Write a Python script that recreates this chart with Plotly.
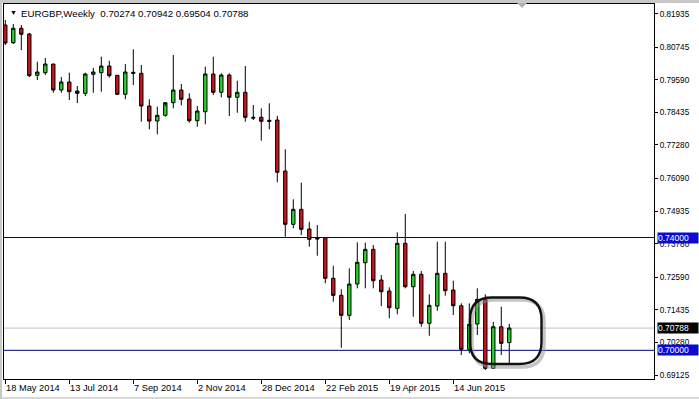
import pandas as pd
import plotly.graph_objects as go

# ---- data (weekly EURGBP) ----
start_date = "2014-05-18"
n_weeks = 64
dates = pd.date_range(start_date, periods=n_weeks, freq="7D")

opens = [0.81534, 0.80907, 0.81417, 0.81215, 0.79751, 0.79843, 0.80151, 0.79229,
         0.79513, 0.79194, 0.79112, 0.79786, 0.79843, 0.80080, 0.79751, 0.79077,
         0.79857, 0.79822, 0.78662, 0.78130, 0.78332, 0.78779, 0.79229, 0.78910,
         0.78141, 0.78460, 0.79797, 0.79148, 0.79761, 0.78971, 0.79148, 0.78261,
         0.78261, 0.78155, 0.78166, 0.76357, 0.74467, 0.74999, 0.74300, 0.73992,
         0.73992, 0.72552, 0.71949, 0.71240, 0.72350, 0.73105, 0.73581, 0.72492,
         0.72102, 0.71488, 0.73793, 0.72254, 0.72694, 0.70957, 0.71570, 0.72730,
         0.72137, 0.71581, 0.70035, 0.70932, 0.71808, 0.69361, 0.70836, 0.70274]
highs = [0.81712, 0.81570, 0.81534, 0.81251, 0.80233, 0.80364, 0.80151, 0.79690,
         0.79843, 0.79371, 0.79843, 0.80010, 0.80410, 0.80268, 0.79761, 0.80151,
         0.80673, 0.80116, 0.78900, 0.78637, 0.78662, 0.80471, 0.79442, 0.79112,
         0.78662, 0.80056, 0.80410, 0.79822, 0.79822, 0.79559, 0.80080, 0.78698,
         0.78580, 0.78758, 0.78307, 0.77127, 0.75354, 0.75942, 0.74559, 0.74442,
         0.73992, 0.72999, 0.72162, 0.72907, 0.73829, 0.73815, 0.73733, 0.72669,
         0.72233, 0.74183, 0.74832, 0.72811, 0.72811, 0.71985, 0.73850, 0.73850,
         0.72467, 0.71666, 0.71666, 0.72198, 0.71985, 0.71013, 0.71545, 0.70942]
lows = [0.80825, 0.80861, 0.80648, 0.79690, 0.79584, 0.79761, 0.79134, 0.79134,
        0.78875, 0.78768, 0.79017, 0.79134, 0.79169, 0.79666, 0.79052, 0.78900,
        0.79407, 0.78105, 0.77836, 0.77659, 0.78283, 0.78580, 0.78687, 0.78070,
        0.77928, 0.78013, 0.79052, 0.78971, 0.78307, 0.78424, 0.78105, 0.78166,
        0.77432, 0.77836, 0.75956, 0.74027, 0.74325, 0.74088, 0.73673, 0.73354,
        0.72375, 0.71722, 0.70091, 0.71074, 0.72198, 0.72198, 0.72198, 0.71570,
        0.71134, 0.71276, 0.72198, 0.71191, 0.70836, 0.70517, 0.71403, 0.71935,
        0.71251, 0.69833, 0.69893, 0.70542, 0.69301, 0.69361, 0.69833, 0.69504]
closes = [0.80896, 0.81417, 0.81205, 0.79737, 0.79868, 0.80151, 0.79229, 0.79513,
          0.79169, 0.79112, 0.79797, 0.79868, 0.80080, 0.79737, 0.79077, 0.79868,
          0.79822, 0.78662, 0.78130, 0.78332, 0.78779, 0.79229, 0.78900, 0.78141,
          0.78485, 0.79797, 0.79148, 0.79761, 0.78971, 0.79148, 0.78261, 0.78237,
          0.78120, 0.78120, 0.76311, 0.74467, 0.74999, 0.74290, 0.73935, 0.73946,
          0.72552, 0.71949, 0.71240, 0.72350, 0.73120, 0.73581, 0.72467, 0.72077,
          0.71510, 0.73793, 0.72254, 0.72694, 0.70957, 0.71595, 0.72730, 0.72113,
          0.71581, 0.70035, 0.70921, 0.71808, 0.69361, 0.70836, 0.70247, 0.70788]

y_ticks = [0.81935, 0.80745, 0.79590, 0.78435, 0.77280, 0.76090,
           0.74935, 0.73780, 0.72590, 0.71435, 0.70280, 0.69125]
x_tick_dates = ["2014-05-18", "2014-07-13", "2014-09-07", "2014-11-02",
                "2014-12-28", "2015-02-22", "2015-04-19", "2015-06-14"]
x_tick_labels = ["18 May 2014", "13 Jul 2014", "7 Sep 2014", "2 Nov 2014",
                 "28 Dec 2014", "22 Feb 2015", "19 Apr 2015", "14 Jun 2015"]
level_lines = [0.74000, 0.70000]
last_price = 0.70788
symbol_title = "EURGBP,Weekly"

W, H = 699, 399
ML, MR, MT, MB = 4, 45, 4, 20
PW, PH = W - ML - MR, H - MT - MB

def pp(px, py):
    return (px - ML) / PW, 1 - (py - MT) / PH

fig = go.Figure()
fig.add_trace(go.Candlestick(
    x=dates, open=opens, high=highs, low=lows, close=closes,
    increasing=dict(fillcolor="#2ed42e", line=dict(color="#000000", width=1)),
    decreasing=dict(fillcolor="#c8161c", line=dict(color="#000000", width=1)),
    whiskerwidth=0, hoverinfo="skip",
))

week = pd.Timedelta(days=7)
x_start = dates[0] - 0.1625 * week
x_end = dates[0] + 81.09 * week

shapes = []
for lv in level_lines:
    shapes.append(dict(type="line", xref="paper", x0=0, x1=1, yref="y", y0=lv, y1=lv,
                       line=dict(color="#000080", width=1), layer="below"))
shapes.append(dict(type="line", xref="paper", x0=0, x1=1, yref="y", y0=last_price, y1=last_price,
                   line=dict(color="#c0c0c0", width=1), layer="below"))

# rounded rectangle highlight (drawn by hand in original)
def rrect(x0, y0, x1, y1, r):
    def P(px, py):
        a, b = pp(px, py)
        return f"{a:.5f},{b:.5f}"
    return (f"M {P(x0+r,y0)} L {P(x1-r,y0)} Q {P(x1,y0)} {P(x1,y0+r)} "
            f"L {P(x1,y1-r)} Q {P(x1,y1)} {P(x1-r,y1)} L {P(x0+r,y1)} "
            f"Q {P(x0,y1)} {P(x0,y1-r)} L {P(x0,y0+r)} Q {P(x0,y0)} {P(x0+r,y0)} Z")

shapes.append(dict(type="path", xref="paper", yref="paper", path=rrect(472, 300, 544, 367, 22),
                   line=dict(color="rgba(140,140,140,0.5)", width=3.5)))
shapes.append(dict(type="path", xref="paper", yref="paper", path=rrect(470, 297.5, 541.5, 364, 22),
                   line=dict(color="#111111", width=2.4)))

# frame decorations (grey window edges + chart shift marker)
shapes.append(dict(type="rect", xref="paper", yref="paper",
                   x0=pp(0, 0)[0], x1=pp(W, 0)[0], y0=pp(0, 3)[1], y1=pp(0, 0)[1],
                   fillcolor="#c8c8c8", line=dict(width=0)))
shapes.append(dict(type="rect", xref="paper", yref="paper",
                   x0=pp(0, 0)[0], x1=pp(W, 0)[0], y0=pp(0, H)[1], y1=pp(0, H - 2)[1],
                   fillcolor="#d8d8d8", line=dict(width=0)))
shapes.append(dict(type="rect", xref="paper", yref="paper",
                   x0=pp(0, 0)[0], x1=pp(2, 0)[0], y0=pp(0, H)[1], y1=pp(0, 0)[1],
                   fillcolor="#c8c8c8", line=dict(width=0)))
a1, b1 = pp(517, 3); a2, b2 = pp(527, 3); a3, b3 = pp(522, 8)
shapes.append(dict(type="path", xref="paper", yref="paper",
                   path=f"M {a1},{b1} L {a2},{b2} L {a3},{b3} Z",
                   fillcolor="#b0b0b0", line=dict(width=0)))

annotations = []
# header
annotations.append(dict(xref="paper", yref="paper", x=pp(8, 0)[0], y=pp(0, 12.5)[1],
                        text="▼", showarrow=False, xanchor="left", yanchor="middle",
                        font=dict(family="Liberation Sans", size=7, color="#000000")))
ohlc_text = "  ".join([symbol_title, " ".join(f"{v:.5f}" for v in
                      [opens[-1], highs[-1], lows[-1], closes[-1]])])
annotations.append(dict(xref="paper", yref="paper", x=pp(19, 0)[0], y=pp(0, 13)[1],
                        text=ohlc_text, showarrow=False, xanchor="left", yanchor="middle",
                        font=dict(family="Liberation Sans", size=9.7, color="#000000")))
# x tick labels, left aligned at ticks
for d, lab in zip(x_tick_dates, x_tick_labels):
    annotations.append(dict(xref="x", yref="paper", x=d, y=0, yshift=-9, xshift=-1,
                            text=lab, showarrow=False, xanchor="left", yanchor="middle",
                            font=dict(family="Liberation Sans", size=9.3, color="#000000")))
# price boxes
for val, bg in [(level_lines[0], "#0a0ad2"), (level_lines[1], "#0a0ad2"), (last_price, "#000000")]:
    annotations.append(dict(xref="paper", yref="y", x=1, y=val, xshift=2.5,
                            text=f"{val:.5f}", showarrow=False, xanchor="left", yanchor="middle",
                            bgcolor=bg, borderpad=0, width=40, height=10, align="left",
                            font=dict(family="Liberation Sans", size=8.5, color="#ffffff")))

fig.update_layout(
    width=W, height=H, margin=dict(l=ML, r=MR, t=MT, b=MB, pad=0),
    paper_bgcolor="#ffffff", plot_bgcolor="#ffffff", showlegend=False,
    boxgap=0.4,
    xaxis=dict(type="date", range=[x_start, x_end], rangeslider=dict(visible=False),
               showgrid=False, zeroline=False, showline=True, mirror=True,
               linecolor="#000000", linewidth=1,
               tickmode="array", tickvals=x_tick_dates, ticktext=[""] * len(x_tick_dates),
               ticks="outside", ticklen=4, tickcolor="#000000", showticklabels=True),
    yaxis=dict(side="right", range=[0.68983, 0.82279], showgrid=False, zeroline=False,
               showline=True, mirror=True, linecolor="#000000", linewidth=1,
               tickmode="array", tickvals=y_ticks, ticktext=[f"{v:.5f}" for v in y_ticks],
               ticks="outside", ticklen=3, tickcolor="#000000",
               tickfont=dict(family="Liberation Sans", size=8.2, color="#000000")),
    shapes=shapes, annotations=annotations,
)

fig.write_html("out.html")
